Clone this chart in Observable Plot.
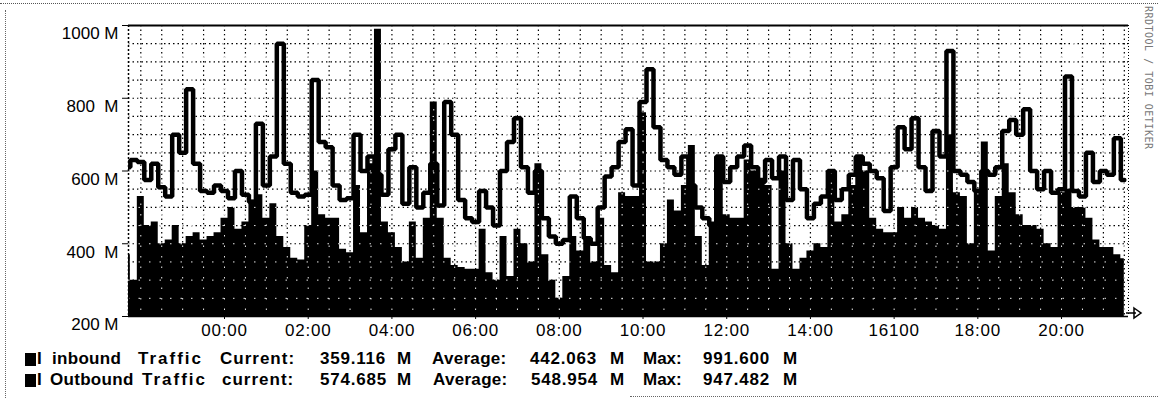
<!DOCTYPE html>
<html>
<head>
<meta charset="utf-8">
<script src="https://cdn.jsdelivr.net/npm/d3@7"></script>
<script src="https://cdn.jsdelivr.net/npm/@observablehq/plot@0.6"></script>
<style>
html, body { margin: 0; padding: 0; background: #fff; }
#wrap { position: relative; width: 1158px; height: 398px; overflow: hidden; font-family: "Liberation Sans", Arial, sans-serif; }
#chart { position: absolute; left: 0; top: 0; }
#chart svg text { white-space: pre; }
.row { position: absolute; left: 0; width: 900px; height: 20px; font-weight: bold; font-size: 17px; line-height: 17px; color: #000; }
.row span { position: absolute; top: 0; white-space: pre; }
.sw { position: absolute; width: 11px; height: 13px; background: #000; }
.frame-top { position: absolute; left: 0; top: 3px; width: 1158px; border-top: 1px dotted #555; }
.frame-left { position: absolute; left: 5px; top: 10px; height: 388px; border-left: 1px dotted #666; }
.frame-bottom { position: absolute; left: 630px; top: 396px; width: 528px; border-top: 1px dotted #666; }
.mark { position: absolute; left: 1143px; top: 6px; writing-mode: vertical-rl; font: 10px "DejaVu Sans Mono", monospace; color: #777; letter-spacing: 0.5px; }
</style>
</head>
<body>
<div id="wrap">
  <div class="frame-top"></div>
  <div class="frame-left"></div>
  <div class="frame-bottom"></div>
  <div id="chart"></div>
  <div class="mark">RRDTOOL / TOBI OETIKER</div>
  <svg style="position:absolute;left:1126px;top:305px" width="20" height="16">
    <line x1="0" y1="8" x2="10" y2="8" stroke="#000" stroke-width="1.5"/>
    <path d="M8,3 L15,8 L8,13 Z" fill="none" stroke="#000" stroke-width="1.5"/>
  </svg>
  <div id="legend"></div>
</div>
<script>
// Time axis: 10-minute samples starting at 21:40 of the previous day (hours relative to 00:00)
const startHour = -14 / 6;
const stepHours = 1 / 6;

// Inbound traffic (filled area), M
const inbound = [
  370, 300, 530, 450, 460, 400, 410, 450, 400, 420,
  430, 410, 420, 430, 470, 500, 440, 460, 520, 535,
  470, 510, 420, 390, 360, 355, 450, 600, 480, 470,
  470, 385, 375, 560, 430, 620, 990, 460, 430, 390,
  350, 460, 360, 470, 790, 470, 360, 340, 335, 330,
  330, 440, 320, 300, 420, 310, 440, 400, 350, 620,
  370, 300, 250, 310, 420, 380, 420, 350, 470, 340,
  320, 540, 530, 530, 760, 350, 350, 400, 520, 490,
  560, 670, 420, 340, 460, 640, 480, 470, 470, 630,
  600, 580, 560, 330, 600, 400, 330, 360, 380, 400,
  390, 600, 460, 480, 560, 640, 600, 470, 440, 430,
  430, 500, 470, 500, 470, 460, 450, 440, 700, 540,
  530, 400, 550, 680, 380, 530, 620, 540, 480, 450,
  450, 440, 400, 390, 540, 550, 500, 500, 470, 410,
  390, 390, 370, 359
];

// Outbound traffic (thick line), M
const outbound = [
  610, 630, 625, 575, 620, 555, 530, 700, 650, 825,
  620, 545, 540, 560, 545, 525, 600, 535, 515, 730,
  560, 640, 950, 620, 540, 530, 535, 850, 680, 665,
  560, 520, 525, 700, 600, 640, 590, 535, 660, 700,
  510, 610, 500, 540, 620, 505, 790, 700, 520, 470,
  460, 545, 500, 450, 600, 680, 745, 610, 540, 600,
  470, 420, 400, 410, 530, 470, 415, 400, 500, 585,
  610, 680, 715, 560, 790, 880, 720, 630, 610, 590,
  640, 560, 500, 470, 450, 640, 570, 610, 640, 670,
  610, 570, 630, 580, 640, 520, 630, 550, 470, 510,
  530, 600, 520, 550, 590, 640, 620, 600, 580, 490,
  610, 720, 660, 745, 610, 545, 710, 640, 930, 600,
  590, 570, 545, 600, 590, 610, 710, 740, 700, 770,
  600, 550, 600, 540, 550, 860, 545, 530, 650, 570,
  600, 590, 690, 575
];

// Axis ticks and labels (as printed)
const xTickHours = [0, 2, 4, 6, 8, 10, 12, 14, 16, 18, 20];
const xTickLabels = ["00:00", "02:00", "04:00", "06:00", "08:00", "10:00", "12:00", "14:00", "16100", "18:00", "20:00"];
const yTickValues = [200, 400, 600, 800, 1000];
const yTickLabels = ["200 M", "400  M", "600 M", "800  M", "1000 M"];

// Legend
const seriesNames = ["inbound", "Outbound"];
const currentWords = ["Current:", "current:"];
const currentValues = ["359.116", "574.685"];
const averageValues = ["442.063", "548.954"];
const maxValues = ["991.600", "947.482"];

const xLabel = new Map(xTickHours.map((h, i) => [h, xTickLabels[i]]));
const yLabel = new Map(yTickValues.map((v, i) => [v, yTickLabels[i]]));
const data = inbound.map((v, i) => ({ t: startHour + i * stepHours, inbound: v, outbound: outbound[i] }));
const xDomain = [-2.294, 21.6];
const yGrid = d3.range(250, 1000, 50);
const xGrid = d3.range(-2, 21.51, 0.5);

const chart = Plot.plot({
  width: 1158,
  height: 345,
  marginLeft: 128,
  marginRight: 30,
  marginTop: 25,
  marginBottom: 29,
  style: { fontFamily: '"Liberation Sans", Arial, sans-serif', fontSize: "17px", color: "#000", background: "transparent", overflow: "visible" },
  x: { domain: xDomain, ticks: xTickHours, tickFormat: d => xLabel.get(d), tickSize: 3, tickPadding: 4, label: null },
  y: { domain: [200, 1000], ticks: yTickValues, tickFormat: d => yLabel.get(d), tickSize: 6, tickPadding: 4, label: null },
  marks: [
    Plot.ruleY(yGrid, { stroke: "#000", strokeWidth: 1.2, strokeDasharray: "1.5,3" }),
    Plot.ruleX(xGrid, { stroke: "#000", strokeWidth: 1.2, strokeDasharray: "1.5,3" }),
    Plot.areaY(data, { x: "t", y1: 200, y2: "inbound", curve: "step", fill: "#000", clip: true }),
    Plot.ruleY(yGrid, { stroke: "#fff", strokeOpacity: 0.9, strokeDasharray: "1.5,9" }),
    Plot.ruleX(xGrid, { stroke: "#fff", strokeOpacity: 0.9, strokeDasharray: "1.5,9" }),
    Plot.lineY(data, { x: "t", y: "outbound", curve: "step", stroke: "#000", strokeWidth: 4.5, strokeLinejoin: "miter", clip: true }),
    Plot.ruleY([1000], { stroke: "#000", strokeWidth: 2 }),
    Plot.ruleY([200], { stroke: "#000", strokeWidth: 1.5 }),
    Plot.ruleX([xDomain[0]], { stroke: "#000", strokeWidth: 1.5, strokeDasharray: "2,2" }),
    Plot.ruleX([xDomain[1]], { stroke: "#000", strokeDasharray: "1,2" })
  ]
});
document.getElementById("chart").appendChild(chart);

// nudge tick labels to sit like the original
d3.select(chart).selectAll("text")
  .filter(function () { return yTickLabels.includes(this.textContent); })
  .attr("dy", "0.5em");
d3.select(chart).selectAll("text")
  .filter(function () { return xTickLabels.includes(this.textContent); })
  .style("letter-spacing", "0.8px");

// legend rows
const legend = document.getElementById("legend");
const lefts = [
  [52, 138, 220, 320, 397, 432, 530, 610, 643, 703, 783],
  [50, 142, 222, 320, 397, 433, 531, 610, 643, 703, 783]
];
const spacing = ["0.3px", "2px", "1px", "0.8px", "0", "0.3px", "0.8px", "0", "0", "0.8px", "0"];
const tops = [350, 371];
seriesNames.forEach((name, r) => {
  const sw = document.createElement("div");
  sw.className = "sw";
  sw.style.left = "25px";
  sw.style.top = (tops[r] + 3) + "px";
  legend.appendChild(sw);
  const row = document.createElement("div");
  row.className = "row";
  row.style.top = tops[r] + "px";
  const bar = document.createElement("span");
  bar.textContent = "I";
  bar.style.left = "37px";
  row.appendChild(bar);
  const words = [name, "Traffic", currentWords[r], currentValues[r], "M", "Average:", averageValues[r], "M", "Max:", maxValues[r], "M"];
  words.forEach((w, k) => {
    const s = document.createElement("span");
    s.textContent = w;
    s.style.left = lefts[r][k] + "px";
    s.style.letterSpacing = spacing[k];
    row.appendChild(s);
  });
  legend.appendChild(row);
});
</script>
</body>
</html>
